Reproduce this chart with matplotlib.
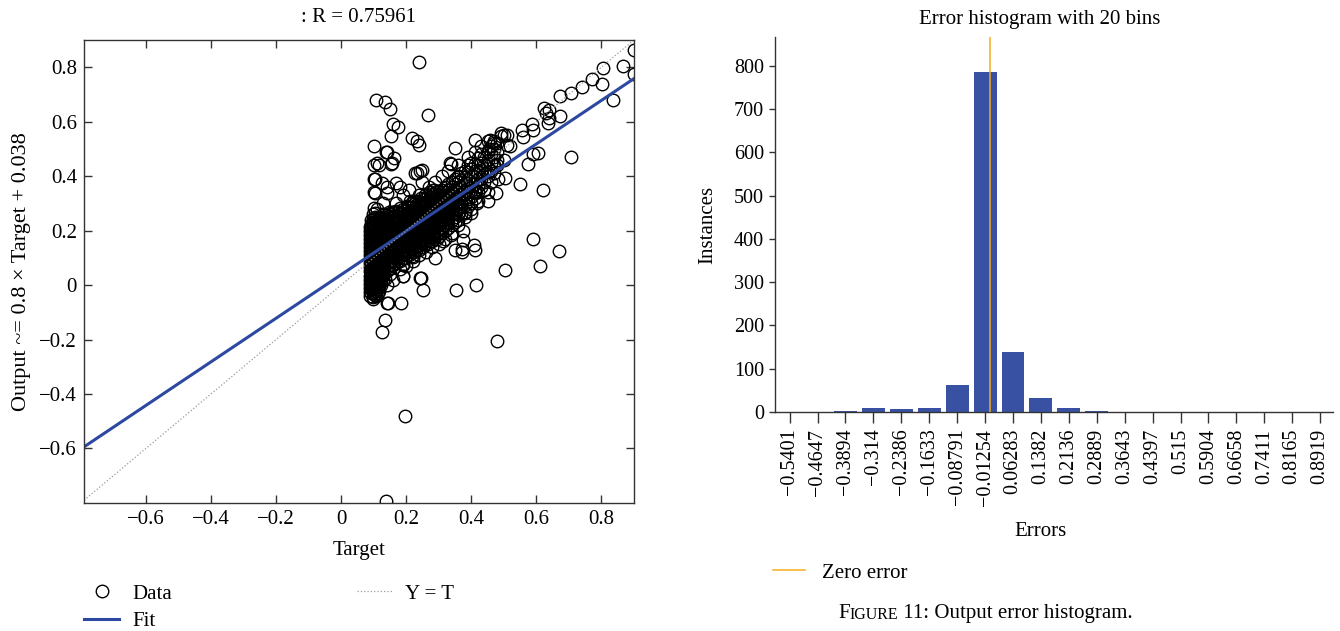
import matplotlib
matplotlib.use("Agg")
import matplotlib.pyplot as plt

plt.rcParams['font.family'] = ['Liberation Serif', 'DejaVu Serif']

# --- regression panel data ---
fit_slope = 0.8
fit_intercept = 0.038
r_value = 0.75961

# scattered points around the main cloud
sparse_target = [
    0.238, 0.107, 0.135, 0.150, 0.267, 0.159, 0.176, 0.153, 0.218, 0.234,
    0.240, 0.102, 0.351, 0.412, 0.138, 0.162, 0.102, 0.118, 0.154, 0.338,
    0.228, 0.250, 0.100, 0.127, 0.168, 0.103, 0.140, 0.100, 0.457, 0.492,
    0.454, 0.511, 0.591, 0.624, 0.638, 0.674, 0.637, 0.674, 0.707, 0.740,
    0.772, 0.803, 0.804, 0.866, 0.899, 0.899, 0.835, 0.707, 0.622, 0.589,
    0.605, 0.573, 0.551, 0.503, 0.476, 0.481, 0.417, 0.413, 0.382, 0.374,
    0.376, 0.372, 0.409, 0.314, 0.338, 0.589, 0.671, 0.610, 0.503, 0.415,
    0.352, 0.252, 0.245, 0.190, 0.191, 0.217, 0.184, 0.142, 0.136, 0.127,
    0.098, 0.107, 0.118, 0.103, 0.135, 0.195, 0.138, 0.479, 0.630, 0.640,
    0.17, 0.19, 0.22, 0.16, 0.24, 0.27, 0.29, 0.31, 0.26, 0.28,
    0.30, 0.32, 0.34, 0.36, 0.38, 0.40, 0.42, 0.44, 0.46, 0.33,
    0.36, 0.39, 0.41, 0.43, 0.22, 0.24, 0.18, 0.20, 0.15, 0.16,
    0.14, 0.21, 0.25, 0.29, 0.35, 0.48, 0.50, 0.47, 0.45, 0.49,
    0.51, 0.11, 0.105, 0.10, 0.11, 0.14, 0.155, 0.14, 0.234, 0.243,
    0.335, 0.366, 0.45, 0.45, 0.40, 0.283, 0.212, 0.18, 0.13, 0.19,
    0.19, 0.243, 0.222, 0.372, 0.41, 0.145, 0.50, 0.557, 0.56, 0.588,
    0.52, 0.47,
]
sparse_output = [
    0.818, 0.678, 0.671, 0.646, 0.624, 0.590, 0.580, 0.549, 0.540, 0.530,
    0.514, 0.509, 0.505, 0.534, 0.490, 0.468, 0.441, 0.441, 0.444, 0.446,
    0.410, 0.424, 0.391, 0.376, 0.374, 0.337, 0.339, 0.282, 0.534, 0.549,
    0.498, 0.516, 0.571, 0.649, 0.644, 0.622, 0.595, 0.694, 0.705, 0.727,
    0.757, 0.738, 0.796, 0.805, 0.862, 0.774, 0.680, 0.471, 0.349, 0.482,
    0.485, 0.444, 0.371, 0.394, 0.339, 0.388, 0.300, 0.339, 0.266, 0.199,
    0.166, 0.134, 0.146, 0.160, 0.185, 0.168, 0.126, 0.071, 0.054, 0.000,
    -0.019, -0.019, 0.027, 0.032, 0.076, 0.107, -0.066, -0.067, -0.127, -0.173,
    -0.051, -0.033, -0.002, 0.024, 0.024, -0.480, -0.793, -0.205, 0.630, 0.612,
    0.30, 0.33, 0.31, 0.27, 0.33, 0.36, 0.38, 0.40, 0.12, 0.14,
    0.15, 0.17, 0.19, 0.22, 0.25, 0.28, 0.31, 0.35, 0.38, 0.42,
    0.44, 0.47, 0.49, 0.51, 0.09, 0.11, 0.06, 0.07, 0.04, 0.02,
    0.00, 0.35, 0.38, 0.10, 0.13, 0.44, 0.46, 0.41, 0.53, 0.56,
    0.55, 0.45, 0.39, 0.34, 0.28, 0.36, 0.45, 0.49, 0.41, 0.42,
    0.45, 0.29, 0.31, 0.34, 0.265, 0.35, 0.31, 0.36, 0.30, 0.075,
    0.034, 0.027, 0.104, 0.122, 0.13, -0.065, 0.55, 0.57, 0.544, 0.59,
    0.51, 0.53,
]

# dense cloud (solid black in the picture): target column -> outputs in that column
cluster_cols = [
    0.088, 0.093, 0.098, 0.103, 0.108, 0.113, 0.118, 0.123, 0.128, 0.133,
    0.140, 0.147, 0.154, 0.161, 0.168, 0.175, 0.182, 0.189, 0.196, 0.203,
    0.210, 0.217, 0.224, 0.231, 0.238, 0.245, 0.252, 0.259, 0.266, 0.273,
    0.280, 0.287, 0.294, 0.301, 0.310, 0.320, 0.330, 0.340, 0.350, 0.360,
    0.370, 0.380, 0.390, 0.400, 0.410, 0.420, 0.430, 0.440, 0.450, 0.460,
    0.470, 0.480,
]
cluster_outputs = [
    [-0.04, -0.025, -0.01, 0.005, 0.02, 0.035, 0.05, 0.065, 0.08, 0.095, 0.11, 0.125, 0.14, 0.155, 0.17, 0.185, 0.2, 0.215],
    [-0.03, -0.015, 0.0, 0.015, 0.03, 0.045, 0.06, 0.075, 0.09, 0.105, 0.12, 0.135, 0.15, 0.165, 0.18, 0.195, 0.21, 0.225, 0.24],
    [-0.045, -0.028, -0.012, 0.004, 0.02, 0.036, 0.052, 0.068, 0.084, 0.1, 0.116, 0.132, 0.148, 0.164, 0.18, 0.196, 0.212, 0.228, 0.244, 0.26],
    [-0.035, -0.02, -0.005, 0.01, 0.025, 0.04, 0.055, 0.07, 0.085, 0.1, 0.115, 0.13, 0.145, 0.16, 0.175, 0.19, 0.205, 0.22, 0.235, 0.25, 0.265],
    [-0.04, -0.022, -0.004, 0.014, 0.032, 0.05, 0.068, 0.086, 0.104, 0.122, 0.14, 0.158, 0.176, 0.194, 0.212, 0.23, 0.248],
    [-0.03, -0.014, 0.002, 0.018, 0.034, 0.05, 0.066, 0.082, 0.098, 0.114, 0.13, 0.146, 0.162, 0.178, 0.194, 0.21, 0.226, 0.242],
    [-0.02, -0.005, 0.01, 0.025, 0.04, 0.055, 0.07, 0.085, 0.1, 0.115, 0.13, 0.145, 0.16, 0.175, 0.19, 0.205, 0.22, 0.235, 0.25],
    [0.0, 0.017, 0.034, 0.051, 0.068, 0.085, 0.102, 0.119, 0.136, 0.153, 0.17, 0.187, 0.204, 0.221, 0.238],
    [0.02, 0.036, 0.052, 0.068, 0.084, 0.1, 0.116, 0.132, 0.148, 0.164, 0.18, 0.196, 0.212, 0.228, 0.244, 0.26],
    [0.04, 0.055, 0.07, 0.085, 0.1, 0.115, 0.13, 0.145, 0.16, 0.175, 0.19, 0.205, 0.22, 0.235, 0.25],
    [0.05, 0.066, 0.082, 0.098, 0.114, 0.13, 0.146, 0.162, 0.178, 0.194, 0.21, 0.226, 0.242, 0.258],
    [0.06, 0.075, 0.09, 0.105, 0.12, 0.135, 0.15, 0.165, 0.18, 0.195, 0.21, 0.225, 0.24, 0.255, 0.27],
    [0.07, 0.086, 0.102, 0.118, 0.134, 0.15, 0.166, 0.182, 0.198, 0.214, 0.23, 0.246, 0.262],
    [0.075, 0.09, 0.105, 0.12, 0.135, 0.15, 0.165, 0.18, 0.195, 0.21, 0.225, 0.24, 0.255, 0.27],
    [0.08, 0.096, 0.112, 0.128, 0.144, 0.16, 0.176, 0.192, 0.208, 0.224, 0.24, 0.256, 0.272],
    [0.09, 0.105, 0.12, 0.135, 0.15, 0.165, 0.18, 0.195, 0.21, 0.225, 0.24, 0.255, 0.27],
    [0.09, 0.106, 0.122, 0.138, 0.154, 0.17, 0.186, 0.202, 0.218, 0.234, 0.25, 0.266, 0.282],
    [0.1, 0.115, 0.13, 0.145, 0.16, 0.175, 0.19, 0.205, 0.22, 0.235, 0.25, 0.265, 0.28],
    [0.1, 0.116, 0.132, 0.148, 0.164, 0.18, 0.196, 0.212, 0.228, 0.244, 0.26, 0.276],
    [0.11, 0.125, 0.14, 0.155, 0.17, 0.185, 0.2, 0.215, 0.23, 0.245, 0.26, 0.275, 0.29],
    [0.11, 0.126, 0.142, 0.158, 0.174, 0.19, 0.206, 0.222, 0.238, 0.254, 0.27, 0.286],
    [0.12, 0.135, 0.15, 0.165, 0.18, 0.195, 0.21, 0.225, 0.24, 0.255, 0.27, 0.285, 0.3],
    [0.12, 0.136, 0.152, 0.168, 0.184, 0.2, 0.216, 0.232, 0.248, 0.264, 0.28, 0.296],
    [0.13, 0.145, 0.16, 0.175, 0.19, 0.205, 0.22, 0.235, 0.25, 0.265, 0.28, 0.295, 0.31],
    [0.13, 0.146, 0.162, 0.178, 0.194, 0.21, 0.226, 0.242, 0.258, 0.274, 0.29, 0.306],
    [0.14, 0.155, 0.17, 0.185, 0.2, 0.215, 0.23, 0.245, 0.26, 0.275, 0.29, 0.305, 0.32],
    [0.14, 0.156, 0.172, 0.188, 0.204, 0.22, 0.236, 0.252, 0.268, 0.284, 0.3, 0.316],
    [0.15, 0.165, 0.18, 0.195, 0.21, 0.225, 0.24, 0.255, 0.27, 0.285, 0.3, 0.315, 0.33],
    [0.15, 0.166, 0.182, 0.198, 0.214, 0.23, 0.246, 0.262, 0.278, 0.294, 0.31, 0.326],
    [0.16, 0.175, 0.19, 0.205, 0.22, 0.235, 0.25, 0.265, 0.28, 0.295, 0.31, 0.325, 0.34],
    [0.16, 0.176, 0.192, 0.208, 0.224, 0.24, 0.256, 0.272, 0.288, 0.304, 0.32, 0.336],
    [0.17, 0.185, 0.2, 0.215, 0.23, 0.245, 0.26, 0.275, 0.29, 0.305, 0.32, 0.335, 0.35],
    [0.17, 0.186, 0.202, 0.218, 0.234, 0.25, 0.266, 0.282, 0.298, 0.314, 0.33, 0.346],
    [0.18, 0.195, 0.21, 0.225, 0.24, 0.255, 0.27, 0.285, 0.3, 0.315, 0.33, 0.345],
    [0.19, 0.21, 0.23, 0.25, 0.27, 0.29, 0.31, 0.33, 0.35],
    [0.2, 0.22, 0.24, 0.26, 0.28, 0.3, 0.32, 0.34, 0.36],
    [0.21, 0.23, 0.25, 0.27, 0.29, 0.31, 0.33, 0.35, 0.37],
    [0.22, 0.24, 0.26, 0.28, 0.3, 0.32, 0.34, 0.36, 0.38],
    [0.23, 0.25, 0.27, 0.29, 0.31, 0.33, 0.35, 0.37, 0.39],
    [0.24, 0.26, 0.28, 0.3, 0.32, 0.34, 0.36, 0.38, 0.4],
    [0.26, 0.285, 0.31, 0.335, 0.36, 0.385, 0.41],
    [0.27, 0.295, 0.32, 0.345, 0.37, 0.395, 0.42],
    [0.29, 0.315, 0.34, 0.365, 0.39, 0.415, 0.44],
    [0.3, 0.325, 0.35, 0.375, 0.4, 0.425, 0.45],
    [0.32, 0.345, 0.37, 0.395, 0.42, 0.445],
    [0.34, 0.365, 0.39, 0.415, 0.44, 0.465],
    [0.36, 0.39, 0.42, 0.45, 0.48],
    [0.38, 0.41, 0.44, 0.47],
    [0.4, 0.43, 0.46, 0.49],
    [0.42, 0.45, 0.48, 0.51],
    [0.44, 0.47, 0.5, 0.52],
    [0.46, 0.49, 0.52],
]

# --- error histogram data ---
bin_centers = [-0.5401, -0.4647, -0.3894, -0.314, -0.2386, -0.1633, -0.08791, -0.01254,
               0.06283, 0.1382, 0.2136, 0.2889, 0.3643, 0.4397, 0.515, 0.5904,
               0.6658, 0.7411, 0.8165, 0.8919]
bin_labels = ['\u22120.5401', '\u22120.4647', '\u22120.3894', '\u22120.314', '\u22120.2386',
              '\u22120.1633', '\u22120.08791', '\u22120.01254', '0.06283', '0.1382',
              '0.2136', '0.2889', '0.3643', '0.4397', '0.515', '0.5904', '0.6658',
              '0.7411', '0.8165', '0.8919']
bin_counts = [0, 0, 3, 9, 7, 9, 62, 785, 138, 32, 9, 3, 0, 0, 0, 0, 0, 0, 0, 0]

bar_blue = '#3851a3'
fit_blue = '#2c48a0'
zero_orange = '#f5ad1f'
axis_grey = '#333333'
fs = 15

target = list(sparse_target)
output = list(sparse_output)
for col, outs in zip(cluster_cols, cluster_outputs):
    target += [col] * len(outs)
    output += outs

fig = plt.figure(figsize=(13.4, 6.31), dpi=100)

# ---------------- left: regression ----------------
ax1 = fig.add_axes([0.0627, 0.2029, 0.4104, 0.7338])
xlim = (-0.79, 0.90)
ylim = (-0.80, 0.90)
ax1.plot(target, output, 'o', mfc='none', mec='black', ms=9, mew=1.0, label='Data')
ax1.plot(xlim, [fit_slope * x + fit_intercept for x in xlim], color=fit_blue, lw=2.2, label='Fit')
ax1.plot(xlim, xlim, ':', color='#9a9a9a', lw=0.9, label='Y = T')
ax1.set_xlim(xlim)
ax1.set_ylim(ylim)
ticks = [-0.6, -0.4, -0.2, 0, 0.2, 0.4, 0.6, 0.8]
tick_text = ['\u22120.6', '\u22120.4', '\u22120.2', '0', '0.2', '0.4', '0.6', '0.8']
ax1.set_xticks(ticks)
ax1.set_yticks(ticks)
ax1.set_xticklabels(tick_text)
ax1.set_yticklabels(tick_text)
ax1.tick_params(direction='in', length=6, width=1, color=axis_grey, labelsize=fs,
                top=True, right=True, pad=5)
for s in ax1.spines.values():
    s.set_color(axis_grey)
    s.set_linewidth(1)
ax1.set_xlabel('Target', fontsize=fs, labelpad=9)
ax1.set_ylabel('Output ~= 0.8 \u00d7 Target + 0.038', fontsize=16, labelpad=6)
ax1.set_title(': R = %.5f' % r_value, fontsize=fs, pad=13)

ax1.legend(loc='upper left', bbox_to_anchor=(84 / 1340, 1 - 584 / 631),
           bbox_transform=fig.transFigure, ncol=2, frameon=False,
           fontsize=fs, handlelength=1.68, handletextpad=0.63,
           columnspacing=8.9, labelspacing=0.4, borderpad=0, borderaxespad=0)

# ---------------- right: error histogram ----------------
ax2 = fig.add_axes([0.5784, 0.3471, 0.4164, 0.5943])
bin_width = bin_centers[1] - bin_centers[0]
ax2.bar(bin_centers, bin_counts, width=bin_width * 0.82, color=bar_blue, zorder=2)
ax2.axvline(0, color=zero_orange, lw=1.1, zorder=3, label='Zero error')
ax2.set_xlim(bin_centers[0] - bin_width * 0.52, bin_centers[-1] + bin_width * 0.46)
ax2.set_ylim(0, 867)
ax2.set_xticks(bin_centers)
ax2.set_xticklabels(bin_labels, rotation=90)
ax2.set_yticks(range(0, 801, 100))
ax2.spines['top'].set_visible(False)
ax2.spines['right'].set_visible(False)
for s in ('left', 'bottom'):
    ax2.spines[s].set_color(axis_grey)
    ax2.spines[s].set_linewidth(1)
ax2.tick_params(axis='x', direction='out', length=8, width=1, color=axis_grey, labelsize=14.5, pad=4)
ax2.tick_params(axis='y', direction='out', length=4, width=1, color=axis_grey, labelsize=14.5, pad=4)
ax2.set_xlabel('Errors', fontsize=fs, labelpad=12)
ax2.xaxis.label.set_x(0.475)
ax2.set_ylabel('Instances', fontsize=fs, labelpad=12)
ax2.set_title('Error histogram with 20 bins', fontsize=fs, pad=9, x=0.475)

ax2.legend(loc='upper left', bbox_to_anchor=(773 / 1340, 1 - 563 / 631),
           bbox_transform=fig.transFigure, frameon=False, fontsize=fs,
           handlelength=1.54, handletextpad=0.82, borderpad=0, borderaxespad=0)

# caption with small caps "Figure"
t1 = fig.text(838 / 1340, 1 - 623 / 631, 'F', fontsize=15, va='bottom', ha='left')
cap2 = ax2.annotate('IGURE', xy=(1, 0), xycoords=t1, va='bottom', ha='left', fontsize=11.5,
                    annotation_clip=False)
ax2.annotate(' 11: Output error histogram.', xy=(1, 0), xycoords=cap2, va='bottom', ha='left',
             fontsize=15, annotation_clip=False)

fig.savefig('out.png', dpi=100)
